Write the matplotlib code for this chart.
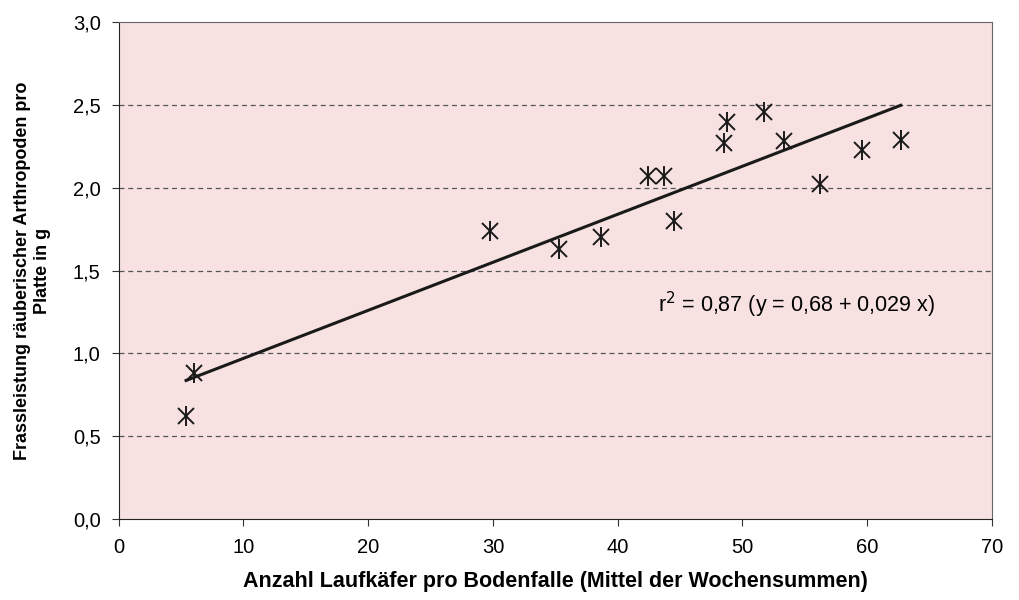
import matplotlib.pyplot as plt
from matplotlib.ticker import FuncFormatter

# Laufkaefer pro Bodenfalle vs. Frassleistung
beetles = [5.4, 6.0, 29.8, 35.3, 38.7, 42.4, 43.75, 44.55, 48.5, 48.8, 51.7, 53.3, 56.2, 59.6, 62.7]
feeding = [0.62, 0.88, 1.74, 1.63, 1.70, 2.07, 2.07, 1.80, 2.27, 2.40, 2.46, 2.28, 2.02, 2.23, 2.29]
intercept = 0.68
slope = 0.029
fit_label = "r$^2$ = 0,87 (y = 0,68 + 0,029 x)"

plt.rcParams['font.family'] = ['Liberation Sans', 'DejaVu Sans']

fig = plt.figure(figsize=(10.2, 6), dpi=100)
ax = fig.add_axes([0.1164, 0.135, 0.856, 0.828])
ax.set_facecolor("#f7e1e1")

fit_x = [min(beetles), max(beetles)]
fit_y = [intercept + slope * v for v in fit_x]
ax.plot(fit_x, fit_y, color="#1a1a1a", lw=2.2, zorder=3)
# asterisk = x plus vertical bar
ax.plot(beetles, feeding, ls="none", marker="x", markersize=11,
        markeredgewidth=1.4, color="#1a1a1a", zorder=4)
ax.plot(beetles, feeding, ls="none", marker="|", markersize=14,
        markeredgewidth=1.4, color="#1a1a1a", zorder=4)

ax.text(43.2, 1.29, fit_label, fontsize=15.5, va="center", ha="left")

ax.set_xlim(0, 70)
ax.set_ylim(0, 3.0)
ax.set_xticks(range(0, 71, 10))
ax.set_yticks([0, 0.5, 1.0, 1.5, 2.0, 2.5, 3.0])
ax.yaxis.set_major_formatter(FuncFormatter(lambda v, p: f"{v:.1f}".replace(".", ",")))
ax.tick_params(labelsize=14.5, direction="out", length=5, color="#333333")
ax.tick_params(axis="x", pad=9)
ax.tick_params(axis="y", pad=8)

for yv in [0.5, 1.0, 1.5, 2.0, 2.5]:
    ax.axhline(yv, color="#555555", lw=0.9, ls=(0, (4, 3)), zorder=1)

ax.spines["left"].set_color("#222222")
ax.spines["bottom"].set_color("#222222")
ax.spines["top"].set_color("#666666")
ax.spines["right"].set_color("#666666")

ax.set_xlabel("Anzahl Laufkäfer pro Bodenfalle (Mittel der Wochensummen)",
              fontsize=15.5, fontweight="bold", labelpad=10)
ax.set_ylabel("Frassleistung räuberischer Arthropoden pro\nPlatte in g",
              fontsize=13, fontweight="bold", labelpad=16)

fig.savefig("out.png", dpi=100)
